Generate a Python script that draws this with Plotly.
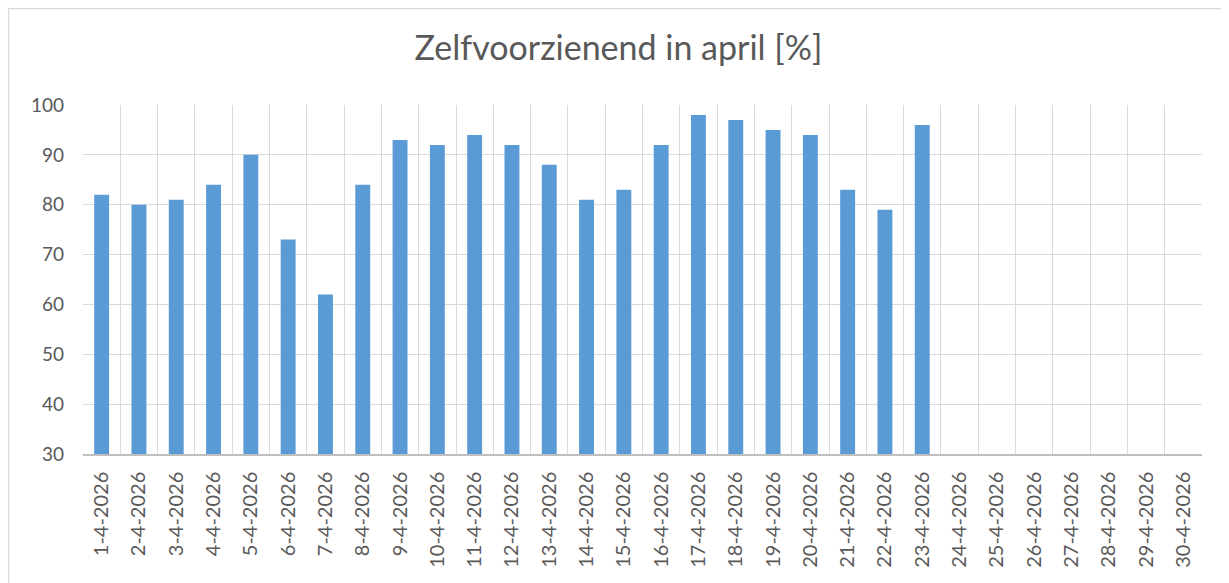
import plotly.graph_objects as go

dates = [f"{d}-4-2026" for d in range(1, 31)]
values = [82, 80, 81, 84, 90, 73, 62, 84, 93, 92, 94, 92, 88, 81, 83, 92, 98, 97, 95, 94, 83, 79, 96,
          None, None, None, None, None, None, None]
y_ticks = [30, 40, 50, 60, 70, 80, 90, 100]

FONT = "Lato"
GREY = "#595959"

# figure is placed by the page with an 8px body margin; sizes compensate for that
W, H = 1221, 575
L, R, T, B = 75, 27, 97, 129
PW, PH = W - L - R, H - T - B

fig = go.Figure(go.Bar(x=dates, y=values, marker=dict(color="#5B9BD5", line=dict(width=0)),
                       width=0.4))

fig.update_layout(
    width=W, height=H,
    margin=dict(l=L, r=R, t=T, b=B, autoexpand=False),
    paper_bgcolor="white", plot_bgcolor="white",
    title=dict(text="Zelfvoorzienend in april [%]", x=0.5, xref="container", xanchor="center",
               y=1 - 40 / H, yref="container", yanchor="middle",
               font=dict(family=FONT, size=34, color=GREY)),
    showlegend=False,
    xaxis=dict(type="category", tickson="boundaries", showgrid=True, gridcolor="#D9D9D9", gridwidth=1.4,
               tickangle=-90, ticks="", showline=True, linecolor="#BFBFBF", linewidth=1.5,
               tickfont=dict(family=FONT, size=20, color=GREY), ticklabelstandoff=8,
               range=[-0.5, 29.5], automargin=False),
    yaxis=dict(range=[30, 100], tickvals=y_ticks, showgrid=True, gridcolor="#D9D9D9", gridwidth=1.4,
               zeroline=False, showline=False, ticks="",
               tickfont=dict(family=FONT, size=19, color=GREY), ticklabelstandoff=18,
               automargin=False),
    shapes=[dict(type="rect", xref="paper", yref="paper",
                 x0=(0.5 - L) / PW, x1=(W - 1 - L) / PW,
                 y0=(PH + T - 700) / PH, y1=(PH + T - 0.5) / PH,
                 line=dict(color="#D9D9D9", width=1.5), fillcolor="rgba(0,0,0,0)", layer="below")],
)

fig.write_html("out.html")
